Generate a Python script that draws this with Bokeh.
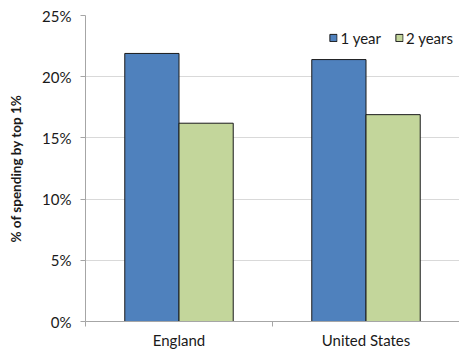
from bokeh.plotting import figure
from bokeh.models import FixedTicker, ColumnDataSource, Range1d, Legend, LegendItem
from bokeh.embed import file_html
from bokeh.resources import INLINE

countries = ["England", "United States"]
series = ["1 year", "2 years"]
one_year = [21.9, 21.4]
two_years = [16.2, 16.9]
y_ticks = [0, 5, 10, 15, 20, 25]
colors = ["#4F81BD", "#C3D69B"]

FONT = "Lato"
bar_w = 0.29

p = figure(width=459, height=351, output_backend="svg", toolbar_location=None,
           x_range=Range1d(0, len(countries)), y_range=Range1d(0, 25),
           min_border_left=85, min_border_right=0, min_border_top=15, min_border_bottom=28)
p.outline_line_color = None
p.background_fill_color = "white"
p.border_fill_color = "white"

centers = [i + 0.5 for i in range(len(countries))]
src1 = ColumnDataSource(dict(x=[c - bar_w / 2 for c in centers], top=one_year))
src2 = ColumnDataSource(dict(x=[c + bar_w / 2 for c in centers], top=two_years))
r1 = p.vbar(x="x", top="top", width=bar_w, source=src1, fill_color=colors[0],
            line_color="#1a1a1a", line_width=1)
r2 = p.vbar(x="x", top="top", width=bar_w, source=src2, fill_color=colors[1],
            line_color="#1a1a1a", line_width=1)

# x axis
p.xaxis.ticker = FixedTicker(ticks=centers, minor_ticks=list(range(len(countries) + 1)))
p.xaxis.major_label_overrides = {c: n for c, n in zip(centers, countries)}
p.xaxis.major_tick_line_color = None
p.xaxis.major_tick_out = 0
p.xaxis.major_tick_in = 0
p.xaxis.minor_tick_out = 5
p.xaxis.minor_tick_in = 0
p.xaxis.minor_tick_line_color = "#A6A6A6"
p.xaxis.axis_line_color = "#A6A6A6"
p.xaxis.major_label_text_font = FONT
p.xaxis.major_label_text_font_size = "15px"
p.xaxis.major_label_text_color = "#1a1a1a"
p.xaxis.major_label_standoff = 4

# y axis
p.yaxis.ticker = FixedTicker(ticks=y_ticks)
p.yaxis.major_label_overrides = {t: f"{t}%" for t in y_ticks}
p.yaxis.minor_tick_line_color = None
p.yaxis.major_tick_out = 5
p.yaxis.major_tick_in = 0
p.yaxis.major_tick_line_color = "#A6A6A6"
p.yaxis.axis_line_color = "#A6A6A6"
p.yaxis.major_label_text_font = FONT
p.yaxis.major_label_text_font_size = "15px"
p.yaxis.major_label_text_color = "#1a1a1a"
p.yaxis.major_label_standoff = 9
p.yaxis.axis_label = "% of spending by top 1%"
p.yaxis.axis_label_text_font = FONT
p.yaxis.axis_label_text_font_style = "bold"
p.yaxis.axis_label_text_font_size = "13.5px"
p.yaxis.axis_label_text_color = "#1a1a1a"
p.yaxis.axis_label_standoff = 15

p.xgrid.grid_line_color = None
p.ygrid.grid_line_color = "#D9D9D9"
p.ygrid.ticker = FixedTicker(ticks=y_ticks)

legend = Legend(items=[LegendItem(label=series[0], renderers=[r1]),
                       LegendItem(label=series[1], renderers=[r2])],
                location="top_right", orientation="horizontal")
legend.border_line_color = None
legend.background_fill_alpha = 0
legend.glyph_width = 9
legend.glyph_height = 9
legend.label_standoff = 3
legend.spacing = 13
legend.padding = 0
legend.margin = 6
legend.label_text_font = FONT
legend.label_text_font_size = "15px"
legend.label_text_color = "#1a1a1a"
legend.label_height = 33
p.add_layout(legend)

open("out.html", "w").write(file_html(p, INLINE))
